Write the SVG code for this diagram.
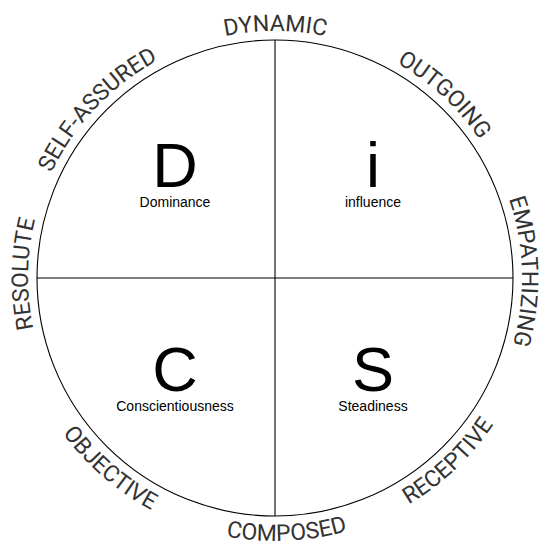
<svg xmlns="http://www.w3.org/2000/svg" xmlns:xlink="http://www.w3.org/1999/xlink" width="541" height="546" viewBox="0 0 541 546">
<style>
.ring{fill:none;stroke:#000;stroke-width:1.1}
.div{stroke:#000;stroke-width:1.1}
.big{font-family:"Liberation Sans",Arial,sans-serif;font-size:63px;fill:#000;text-anchor:middle}
.cap{font-family:"Liberation Sans",Arial,sans-serif;font-size:14px;fill:#000;text-anchor:middle}
.arc{font-family:Roboto,"Noto Sans",sans-serif;font-size:23px;fill:#333}
</style>
<defs>
<path id="cw" d="M 275,525 A 247 247 0 1 1 275,31 A 247 247 0 1 1 275,525"/>
<path id="ccw" d="M 275,15 A 263 263 0 1 0 275,541 A 263 263 0 1 0 275,15"/>
</defs>
<rect width="541" height="546" fill="#fff"/>
<g id="frame">
<circle class="ring" cx="275" cy="278" r="238"/>
</g>
<g id="connectors">
<line class="div" x1="275" y1="40" x2="275" y2="516"/>
<line class="div" x1="37" y1="278" x2="513" y2="278"/>
</g>
<g id="node-D"><text class="big" x="175" y="187">D</text><text class="cap" x="175" y="207">Dominance</text></g>
<g id="node-i"><text class="big" x="373" y="187">i</text><text class="cap" x="373" y="207">influence</text></g>
<g id="node-C"><text class="big" x="175" y="391">C</text><text class="cap" x="175" y="411">Conscientiousness</text></g>
<g id="node-S"><text class="big" x="373" y="391">S</text><text class="cap" x="373" y="411">Steadiness</text></g>
<g id="labels" class="arc" text-anchor="middle">
<text><textPath xlink:href="#cw" href="#cw" startOffset="392">RESOLUTE</textPath></text>
<text><textPath xlink:href="#cw" href="#cw" startOffset="575">SELF-ASSURED</textPath></text>
<text><textPath xlink:href="#cw" href="#cw" startOffset="776">DYNAMIC</textPath></text>
<text><textPath xlink:href="#cw" href="#cw" startOffset="960">OUTGOING</textPath></text>
<text><textPath xlink:href="#cw" href="#cw" startOffset="1157">EMPATHIZING</textPath></text>
<text><textPath xlink:href="#ccw" href="#ccw" startOffset="638">OBJECTIVE</textPath></text>
<text><textPath xlink:href="#ccw" href="#ccw" startOffset="838">COMPOSED</textPath></text>
<text><textPath xlink:href="#ccw" href="#ccw" startOffset="1025">RECEPTIVE</textPath></text>
</g>
</svg>
